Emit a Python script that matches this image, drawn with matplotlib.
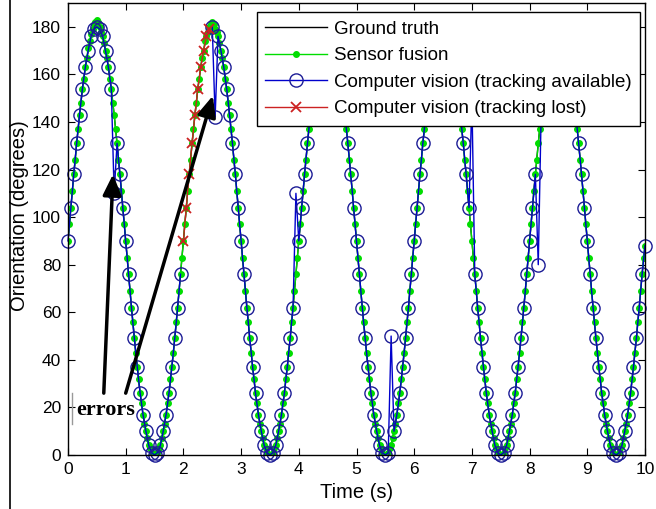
import numpy as np
import matplotlib.pyplot as plt
from matplotlib.lines import Line2D

# time stamps: computer vision at 20 Hz, sensor fusion at 40 Hz
t_cv = np.arange(201) * 0.05
t_fus = np.arange(401) * 0.025

# ground truth orientation (degrees), 20 Hz
truth = [
    90, 104, 118, 131, 143, 154, 163, 170, 176, 179, 180, 179, 176, 170, 163, 154, 143, 131, 118, 104,
    90, 76, 62, 49, 37, 26, 17, 10, 4, 1, 0, 1, 4, 10, 17, 26, 37, 49, 62, 76,
    90, 104, 118, 131, 143, 154, 163, 170, 176, 179, 180, 179, 176, 170, 163, 154, 143, 131, 118, 104,
    90, 76, 62, 49, 37, 26, 17, 10, 4, 1, 0, 1, 4, 10, 17, 26, 37, 49, 62, 76,
    90, 104, 118, 131, 143, 154, 163, 170, 176, 179, 180, 179, 176, 170, 163, 154, 143, 131, 118, 104,
    90, 76, 62, 49, 37, 26, 17, 10, 4, 1, 0, 1, 4, 10, 17, 26, 37, 49, 62, 76,
    90, 104, 118, 131, 143, 154, 163, 170, 176, 179, 180, 179, 176, 170, 163, 154, 143, 131, 118, 104,
    90, 76, 62, 49, 37, 26, 17, 10, 4, 1, 0, 1, 4, 10, 17, 26, 37, 49, 62, 76,
    90, 104, 118, 131, 143, 154, 163, 170, 176, 179, 180, 179, 176, 170, 163, 154, 143, 131, 118, 104,
    90, 76, 62, 49, 37, 26, 17, 10, 4, 1, 0, 1, 4, 10, 17, 26, 37, 49, 62, 76,
    88,
]

# sensor fusion estimate, 40 Hz
fusion = [
    90, 97, 104, 111, 118, 124, 131, 137, 143, 148, 154, 158, 163, 167, 171, 174, 177, 179, 181, 182,
    183, 182, 180, 178, 176, 173, 170, 167, 163, 158, 154, 148, 143, 137, 131, 124, 118, 111, 104, 97,
    90, 83, 76, 69, 62, 56, 49, 43, 37, 32, 26, 22, 17, 13, 10, 7, 4, 3, 1, 0,
    0, 0, 1, 3, 4, 7, 10, 13, 17, 22, 26, 32, 37, 43, 49, 56, 62, 69, 76, 83,
    90, 97, 104, 111, 118, 124, 131, 137, 143, 148, 154, 158, 163, 167, 170, 174, 176, 178, 180, 181,
    182, 181, 179, 178, 176, 173, 170, 167, 163, 158, 154, 148, 143, 137, 131, 124, 118, 111, 104, 97,
    90, 83, 76, 69, 62, 56, 49, 43, 37, 32, 26, 22, 17, 13, 10, 7, 4, 3, 1, 0,
    0, 0, 1, 3, 4, 7, 10, 13, 17, 22, 26, 32, 37, 43, 49, 56, 62, 69, 76, 83,
    90, 97, 104, 111, 118, 124, 131, 137, 143, 148, 154, 158, 163, 167, 170, 173, 176, 178, 179, 180,
    180, 180, 179, 178, 176, 173, 170, 167, 163, 158, 154, 148, 143, 137, 131, 124, 118, 111, 104, 97,
    90, 83, 76, 69, 62, 56, 49, 43, 37, 32, 26, 22, 17, 13, 10, 7, 4, 3, 1, 0,
    0, 0, 1, 3, 4, 7, 10, 13, 17, 22, 26, 32, 37, 43, 49, 56, 62, 69, 76, 83,
    90, 97, 104, 111, 118, 124, 131, 137, 143, 148, 154, 158, 163, 167, 170, 173, 176, 178, 179, 180,
    180, 180, 179, 178, 176, 173, 170, 167, 163, 158, 154, 148, 143, 137, 131, 124, 118, 111, 104, 97,
    90, 83, 76, 69, 62, 56, 49, 43, 37, 32, 26, 22, 17, 13, 10, 7, 4, 3, 1, 0,
    0, 0, 1, 3, 4, 7, 10, 13, 17, 22, 26, 32, 37, 43, 49, 56, 62, 69, 76, 83,
    90, 97, 104, 111, 118, 124, 131, 137, 143, 148, 154, 158, 163, 167, 170, 173, 176, 178, 179, 180,
    180, 180, 179, 178, 176, 173, 170, 167, 163, 158, 154, 148, 143, 137, 131, 124, 118, 111, 104, 97,
    90, 83, 76, 69, 62, 56, 49, 43, 37, 32, 26, 22, 17, 13, 10, 7, 4, 3, 1, 0,
    0, 0, 1, 3, 4, 7, 10, 13, 17, 22, 26, 32, 37, 43, 49, 56, 62, 69, 76, 83,
    88,
]

nan = np.nan
# computer vision while tracking is available (nan = tracking lost)
cv_ok = [
    90, 104, 118, 131, 143, 154, 163, 170, 176, 179, 180, 179, 176, 170, 163, 154, 110, 131, 118, 104,
    90, 76, 62, 49, 37, 26, 17, 10, 4, 1, 0, 1, 4, 10, 17, 26, 37, 49, 62, 76,
    nan, nan, nan, nan, nan, nan, nan, nan, nan, nan, 180, 142, 176, 170, 163, 154, 143, 131, 118, 104,
    90, 76, 62, 49, 37, 26, 17, 10, 4, 1, 0, 1, 4, 10, 17, 26, 37, 49, 62, 110,
    90, 104, 118, 131, 143, 154, 163, 170, 176, 179, 180, 179, 176, 170, 163, 154, 143, 131, 118, 104,
    90, 76, 62, 49, 37, 26, 17, 10, 4, 1, 0, 1, 50, 10, 17, 26, 37, 49, 62, 76,
    90, 104, 118, 131, 143, 154, 163, 170, 176, 179, 180, 179, 176, 170, 163, 154, 143, 131, 118, 104,
    150, 76, 62, 49, 37, 26, 17, 10, 4, 1, 0, 1, 4, 10, 17, 26, 37, 49, 62, 76,
    90, 104, 118, 80, 143, 154, 163, 170, 176, 179, 180, 179, 176, 170, 163, 154, 143, 131, 118, 104,
    90, 76, 62, 49, 37, 26, 17, 10, 4, 1, 0, 1, 4, 10, 17, 26, 37, 49, 62, 76,
    88,
]

# computer vision while tracking is lost
t_lost = [2.0, 2.05, 2.1, 2.15, 2.2, 2.25, 2.3, 2.35, 2.4, 2.45]
cv_lost = [90, 104, 118, 131, 143, 154, 163, 170, 176, 179]

plt.rcParams['font.family'] = ['Liberation Sans', 'DejaVu Sans']

fig = plt.figure(figsize=(6.56, 5.09), dpi=100)
ax = fig.add_axes([68 / 656, 54 / 509, 577 / 656, 452 / 509])

ax.plot(t_cv, truth, color='k', lw=1, label='Ground truth')
ax.plot(t_fus, fusion, color='#00dd00', lw=1, marker='.', ms=8,
        label='Sensor fusion')
ax.plot(t_cv, cv_ok, color='#0000cc', lw=1, marker='o', ms=9.5,
        mfc='none', mec='#1c1c96', mew=1, clip_on=False,
        label='Computer vision (tracking available)')
ax.plot(t_lost, cv_lost, color='#cc2222', lw=1, marker='x', ms=6.5,
        mew=1.3, label='Computer vision (tracking lost)')

ax.set_xlim(0, 10)
ax.set_ylim(0, 190)
ax.set_xticks(np.arange(0, 11, 1))
ax.set_yticks(np.arange(0, 181, 20))
ax.tick_params(direction='in', top=True, right=True, length=5,
               labelsize=12.5, pad=5)
for s in ax.spines.values():
    s.set_linewidth(1)

ax.set_xlabel('Time (s)', fontsize=14.5, labelpad=4)
ax.set_ylabel('Orientation (degrees)', fontsize=14.5)
ax.yaxis.set_label_coords(-0.068, 0.53)

leg = ax.legend(loc='upper right', bbox_to_anchor=(0.9913, 0.980),
                fontsize=13.5, numpoints=1, handlelength=3.3,
                labelspacing=0.5, fancybox=False, framealpha=1,
                edgecolor='k', borderpad=0.45, handletextpad=0.35,
                borderaxespad=0)
leg.get_frame().set_linewidth(1)
leg.set_zorder(10)

# annotation arrows pointing at the tracking errors
arrow = dict(arrowstyle='-|>,head_length=0.9,head_width=0.4',
             color='k', lw=2.5, mutation_scale=14, shrinkA=0, shrinkB=0)
ax.annotate('', xy=(0.78, 118), xytext=(0.62, 26), arrowprops=arrow)
ax.annotate('', xy=(2.51, 151), xytext=(1.0, 26), arrowprops=arrow)
ax.text(0.14, 19, 'errors', fontsize=16, fontweight='bold',
        family='Liberation Serif', ha='left', va='center')
ax.plot([0.07, 0.07], [13, 26], color='0.6', lw=1)

# left border line of the original page
fig.add_artist(Line2D([9.5 / 656, 9.5 / 656], [0, 1], color='k', lw=1.2))

fig.savefig('out.png', dpi=100)
